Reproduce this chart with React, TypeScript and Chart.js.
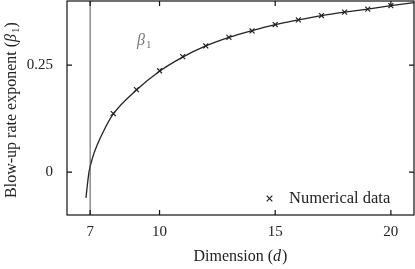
import React, { useEffect, useRef } from "react";
import { Chart, registerables } from "chart.js";

Chart.register(...registerables);

// Numerical data (crosses)
const dataD = [8, 9, 10, 11, 12, 13, 14, 15, 16, 17, 18, 19, 20];
const dataBeta = [0.137, 0.193, 0.237, 0.27, 0.295, 0.315, 0.33, 0.345, 0.356, 0.366, 0.374, 0.381, 0.389];

// Continuous curve beta_1(d)
const curveD = [6.82, 6.88, 6.95, 7.1, 7.3, 7.6, 8, 9, 10, 11, 12, 13, 14, 15, 16, 17, 18, 19, 20, 21];
const curveBeta = [-0.06, -0.03, 0.0, 0.033, 0.063, 0.098, 0.136, 0.192, 0.236, 0.269, 0.295, 0.315, 0.331, 0.345, 0.356, 0.366, 0.374, 0.381, 0.389, 0.396];

// Vertical reference line
const vlineD = 7;

const xTicks = [7, 10, 15, 20];
const yTicks = [0, 0.25];
const xMin = 6, xMax = 21, yMin = -0.1, yMax = 0.4;

const FONT = "'Liberation Serif', 'Times New Roman', serif";

const decorPlugin = {
  id: "decor",
  afterDraw(chart: any) {
    const ctx = chart.ctx;
    const { left, right, top, bottom } = chart.chartArea;
    const xs = chart.scales.x;
    const ys = chart.scales.y;
    ctx.save();
    // frame
    ctx.strokeStyle = "#111";
    ctx.lineWidth = 1.2;
    ctx.strokeRect(left, top, right - left, bottom - top);
    // inward ticks
    const tl = 5;
    ctx.beginPath();
    xTicks.forEach((v) => {
      const px = xs.getPixelForValue(v);
      ctx.moveTo(px, bottom);
      ctx.lineTo(px, bottom - tl);
      ctx.moveTo(px, top);
      ctx.lineTo(px, top + tl);
    });
    yTicks.forEach((v) => {
      const py = ys.getPixelForValue(v);
      ctx.moveTo(left, py);
      ctx.lineTo(left + tl, py);
      ctx.moveTo(right, py);
      ctx.lineTo(right - tl, py);
    });
    ctx.stroke();

    ctx.fillStyle = "#222";
    ctx.textBaseline = "alphabetic";
    // x title: Dimension (d)
    {
      const p1 = "Dimension (";
      const p2 = "d";
      const p3 = ")";
      ctx.font = `16px ${FONT}`;
      const w1 = ctx.measureText(p1).width;
      const w3 = ctx.measureText(p3).width;
      ctx.font = `italic 16px ${FONT}`;
      const w2 = ctx.measureText(p2).width;
      const total = w1 + w2 + w3 + 1;
      let x = (left + right) / 2 - total / 2;
      const y = 261;
      ctx.textAlign = "left";
      ctx.font = `16px ${FONT}`;
      ctx.fillText(p1, x, y);
      x += w1;
      ctx.font = `italic 16px ${FONT}`;
      ctx.fillText(p2, x, y);
      x += w2 + 1;
      ctx.font = `16px ${FONT}`;
      ctx.fillText(p3, x, y);
    }
    // y title: Blow-up rate exponent (β1)
    {
      ctx.save();
      ctx.translate(16, (top + bottom) / 2 + 2);
      ctx.rotate(-Math.PI / 2);
      const p1 = "Blow-up rate exponent (";
      const p2 = "β";
      const p3 = "1";
      const p4 = ")";
      ctx.font = `16px ${FONT}`;
      const w1 = ctx.measureText(p1).width;
      const w4 = ctx.measureText(p4).width;
      ctx.font = `italic 16px ${FONT}`;
      const w2 = ctx.measureText(p2).width;
      ctx.font = `11px ${FONT}`;
      const w3 = ctx.measureText(p3).width;
      const total = w1 + w2 + w3 + w4 + 1;
      let x = -total / 2;
      ctx.textAlign = "left";
      ctx.font = `16px ${FONT}`;
      ctx.fillText(p1, x, 0);
      x += w1;
      ctx.font = `italic 16px ${FONT}`;
      ctx.fillText(p2, x, 0);
      x += w2 + 1;
      ctx.font = `11px ${FONT}`;
      ctx.fillText(p3, x, 3);
      x += w3;
      ctx.font = `16px ${FONT}`;
      ctx.fillText(p4, x, 0);
      ctx.restore();
    }
    // annotation β1
    {
      ctx.fillStyle = "#777";
      ctx.textAlign = "left";
      ctx.font = `italic 16px ${FONT}`;
      ctx.fillText("β", 137, 45);
      const wb = ctx.measureText("β").width;
      ctx.font = `11px ${FONT}`;
      ctx.fillText("1", 137 + wb + 1, 48);
    }
    // legend
    {
      const cx = 269.5, cy = 198.5, s = 2.8;
      ctx.strokeStyle = "#222";
      ctx.lineWidth = 1.2;
      ctx.beginPath();
      ctx.moveTo(cx - s, cy - s);
      ctx.lineTo(cx + s, cy + s);
      ctx.moveTo(cx - s, cy + s);
      ctx.lineTo(cx + s, cy - s);
      ctx.stroke();
      ctx.fillStyle = "#222";
      ctx.font = `16.5px ${FONT}`;
      ctx.fillText("Numerical data", 289, 203);
    }
    ctx.restore();
  },
};

const zeroPad = (scale: any) => {
  scale.paddingTop = 0;
  scale.paddingBottom = 0;
  scale.paddingLeft = 0;
  scale.paddingRight = 0;
};

export default function App() {
  const ref = useRef<HTMLCanvasElement | null>(null);
  useEffect(() => {
    if (!ref.current) return;
    const chart = new Chart(ref.current, {
      type: "line",
      data: {
        datasets: [
          {
            label: "vline",
            data: [
              { x: vlineD, y: yMin },
              { x: vlineD, y: yMax },
            ],
            borderColor: "#555",
            borderWidth: 1,
            pointRadius: 0,
          },
          {
            label: "curve",
            data: curveD.map((d, i) => ({ x: d, y: curveBeta[i] })),
            borderColor: "#222",
            borderWidth: 1.3,
            pointRadius: 0,
            cubicInterpolationMode: "monotone",
          },
          {
            label: "Numerical data",
            data: dataD.map((d, i) => ({ x: d, y: dataBeta[i] })),
            showLine: false,
            pointStyle: "crossRot",
            pointRadius: 3.5,
            borderColor: "#222",
            borderWidth: 1.2,
            backgroundColor: "#222",
          },
        ],
      },
      options: {
        animation: false,
        responsive: false,
        layout: { autoPadding: false, padding: { top: 1, right: 1, left: 0, bottom: 0 } },
        plugins: { legend: { display: false }, tooltip: { enabled: false } },
        scales: {
          x: {
            type: "linear",
            min: xMin,
            max: xMax,
            border: { display: false },
            grid: { display: false, drawTicks: false },
            afterBuildTicks: (scale: any) => {
              scale.ticks = xTicks.map((v) => ({ value: v }));
            },
            afterFit: (scale: any) => {
              scale.height = 54;
              zeroPad(scale);
            },
            ticks: {
              padding: 8,
              color: "#222",
              font: { family: FONT, size: 15 },
              callback: (v: any) => String(v),
            },
          },
          y: {
            type: "linear",
            min: yMin,
            max: yMax,
            border: { display: false },
            grid: { display: false, drawTicks: false },
            afterBuildTicks: (scale: any) => {
              scale.ticks = yTicks.map((v) => ({ value: v }));
            },
            afterFit: (scale: any) => {
              scale.width = 67;
              zeroPad(scale);
            },
            ticks: {
              padding: 14,
              color: "#222",
              font: { family: FONT, size: 15 },
              callback: (v: any) => String(v),
            },
          },
        },
      },
      plugins: [decorPlugin],
    });
    return () => chart.destroy();
  }, []);
  return (
    <canvas
      ref={ref}
      width={415}
      height={269}
      style={{ position: "absolute", left: 0, top: 0, width: 415, height: 269 }}
    />
  );
}
